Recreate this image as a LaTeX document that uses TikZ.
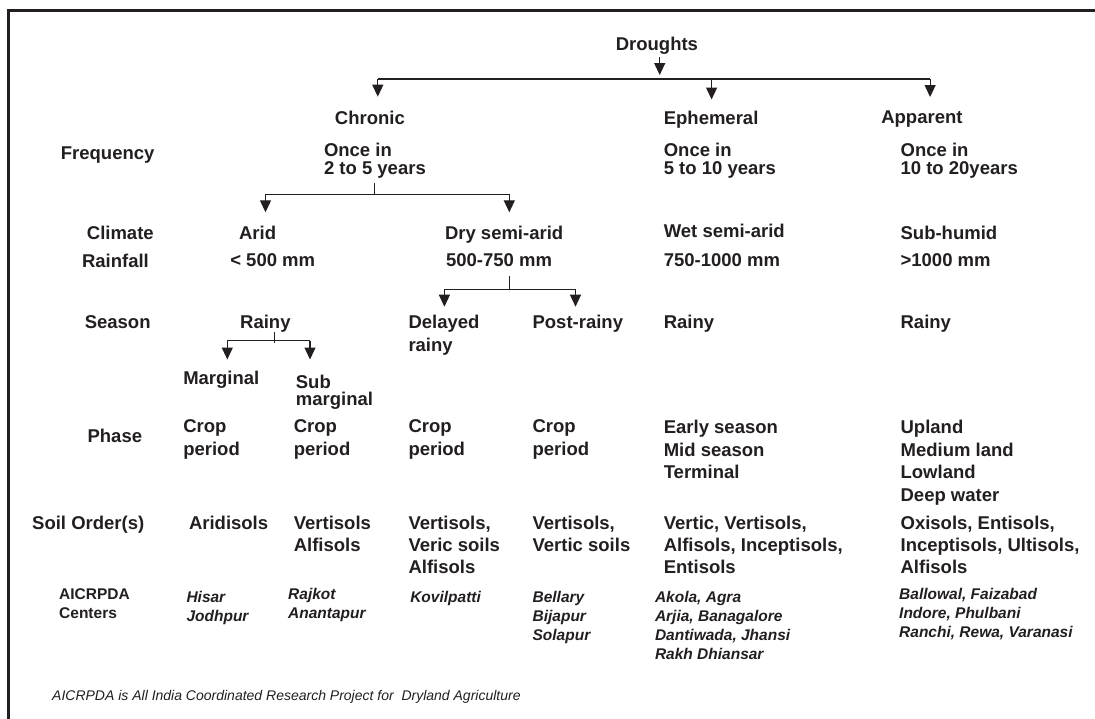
\documentclass[tikz,border=0pt]{standalone}
\usepackage{fontspec}
\setmainfont{Liberation Sans}
\usetikzlibrary{arrows.meta}
\definecolor{ink}{HTML}{231F20}

\tikzset{
  lbl/.style={anchor=north west, inner sep=0pt, align=left, font=\fontsize{18.5}{22.5}\selectfont\bfseries},
  tight/.style={lbl, font=\fontsize{18.5}{18}\selectfont\bfseries},
  ctrlbl/.style={anchor=north west, inner sep=0pt, align=left, font=\fontsize{15.5}{19}\selectfont\bfseries},
  ctr/.style={ctrlbl, font=\fontsize{15.5}{19}\selectfont\bfseries\itshape},
  arr/.style={-{Triangle[width=11pt,length=12pt]}},
}

\begin{document}
\begin{tikzpicture}[x=1pt,y=-1pt,line width=1.2pt,color=ink,text=ink]
        \fill[white] (0,0) rectangle (1095,718);
        \clip (0,0) rectangle (1095,718);
        \draw[line width=2.2pt] (8.5,730)--(8.5,10.5)--(1110,10.5);
        % tree heads
        \node[lbl] (drought) at (615.2,36.5) {Droughts};
        \node[lbl] (chronic) at (334.3,110.5) {Chronic};
        \node[lbl] (ephem) at (663.2,110.5) {Ephemeral};
        \node[lbl] (appar) at (880.7,110.5) {Apparent};
        % frequency
        \node[lbl] (freq) at (60.3,146.5) {Frequency};
        \node[tight] (freqC) at (323.4,142.5) {Once in\\2 to 5 years};
        \node[tight] (freqE) at (663.2,142.5) {Once in\\5 to 10 years};
        \node[tight] (freqA) at (900,142.5) {Once in\\10 to 20years};
        % climate and rainfall
        \node[lbl] (climate) at (86.3,225) {Climate};
        \node[lbl] (arid) at (238.5,225) {Arid};
        \node[lbl] (drysa) at (444.4,225) {Dry semi-arid};
        \node[lbl] (wetsa) at (663.2,223.5) {Wet semi-arid};
        \node[lbl] (subhum) at (900,225.5) {Sub-humid};
        \node[lbl] (rainfall) at (81.4,253.2) {Rainfall};
        \node[lbl] (rainA) at (229.7,253.2) {< 500 mm};
        \node[lbl] (rainD) at (445.5,253.2) {500-750 mm};
        \node[lbl] (rainW) at (663.2,253.2) {750-1000 mm};
        \node[lbl] (rainS) at (900,253.2) {>1000 mm};
        % season
        \node[lbl] (season) at (84.2,314.5) {Season};
        \node[lbl] (rainyA) at (239.6,314.5) {Rainy};
        \node[lbl, font=\fontsize{18.5}{23}\selectfont\bfseries] (delayed) at (407.9,314.5) {Delayed\\rainy};
        \node[lbl] (postr) at (532,314.5) {Post-rainy};
        \node[lbl] (rainyW) at (663.2,314.5) {Rainy};
        \node[lbl] (rainyS) at (900,314.5) {Rainy};
        \node[lbl] (marg) at (182.7,370.5) {Marginal};
        \node[tight, font=\fontsize{18.5}{17.3}\selectfont\bfseries] (submarg) at (295.3,374.2) {Sub\\marginal};
        % phase
        \node[lbl] (phase) at (87,428.8) {Phase};
        \node[lbl] (cropA) at (182.7,419.2) {Crop\\period};
        \node[lbl] (cropB) at (293.2,419.2) {Crop\\period};
        \node[lbl] (cropC) at (407.9,419.2) {Crop\\period};
        \node[lbl] (cropD) at (532,419.2) {Crop\\period};
        \node[lbl] (phaseW) at (663.2,419.8) {Early season\\Mid season\\Terminal};
        \node[lbl] (phaseS) at (900,419.8) {Upland\\Medium land\\Lowland\\Deep water};
        % soils
        \node[lbl] (soil) at (31.6,515.8) {Soil Order(s)};
        \node[lbl, font=\fontsize{18.5}{22}\selectfont\bfseries] (soilA) at (188.4,515.8) {Aridisols};
        \node[lbl, font=\fontsize{18.5}{22}\selectfont\bfseries] (soilB) at (293.2,515.8) {Vertisols\\Alfisols};
        \node[lbl, font=\fontsize{18.5}{22}\selectfont\bfseries] (soilC) at (407.9,515.8) {Vertisols,\\Veric soils\\Alfisols};
        \node[lbl, font=\fontsize{18.5}{22}\selectfont\bfseries] (soilD) at (532,515.8) {Vertisols,\\Vertic soils};
        \node[lbl, font=\fontsize{18.5}{22}\selectfont\bfseries] (soilW) at (663.2,515.8) {Vertic, Vertisols,\\Alfisols, Inceptisols,\\Entisols};
        \node[lbl, font=\fontsize{18.5}{22}\selectfont\bfseries] (soilS) at (900,515.8) {Oxisols, Entisols,\\Inceptisols, Ultisols,\\Alfisols};
        % centers
        \node[ctrlbl] (centers) at (58.6,588) {AICRPDA\\Centers};
        \node[ctr] (ctrA) at (185.9,591) {Hisar\\Jodhpur};
        \node[ctr] (ctrB) at (287.6,587.7) {Rajkot\\Anantapur};
        \node[ctr] (ctrC) at (409.7,590.7) {Kovilpatti};
        \node[ctr] (ctrD) at (532,591) {Bellary\\Bijapur\\Solapur};
        \node[ctr] (ctrW) at (654.4,591) {Akola, Agra\\Arjia, Banagalore\\Dantiwada, Jhansi\\Rakh Dhiansar};
        \node[ctr] (ctrS) at (898.6,587.7) {Ballowal, Faizabad\\Indore, Phulbani\\Ranchi, Rewa, Varanasi};
        \node[anchor=base west, inner sep=0pt, font=\fontsize{14}{16}\selectfont\itshape] (note) at (51.6,700)
            {AICRPDA is All India Coordinated Research Project for~ Dryland Agriculture};
        % connectors
        \coordinate (bD) at (659.7,79);
        \coordinate (bC) at (377.8,79);
        \coordinate (bE) at (711.6,79);
        \coordinate (bA) at (930.1,79);
        \draw[arr, shorten <=2pt] (drought.south -| bD)--([yshift=4pt]bD);
        \draw (bC)--(bA);
        \draw[arr] (bC)--++(0,17.7);
        \draw[arr] (bE)--++(0,20.5);
        \draw[arr] (bA)--++(0,18);
        \coordinate (jC) at (374.3,194.3);
        \coordinate (jCl) at (265.5,194.3);
        \coordinate (jCr) at (509.3,194.3);
        \draw ([yshift=-4pt]freqC.south -| jC)--(jC);
        \draw (jCl)--(jCr);
        \draw[arr] (jCl)--++(0,18);
        \draw[arr] (jCr)--++(0,18);
        \coordinate (jD) at (509.3,289.3);
        \coordinate (jDl) at (444.4,289.3);
        \coordinate (jDr) at (575.5,289.3);
        \draw (jD)--++(0,-13.3);
        \draw (jDl)--(jDr);
        \draw[arr] (jDl)--++(0,17.4);
        \draw[arr] (jDr)--++(0,17.4);
        \coordinate (jR) at (274.3,340.7);
        \coordinate (jRl) at (227.3,340.7);
        \coordinate (jRr) at (310,340.7);
        \draw (jR)++(0,2)--++(0,-11);
        \draw (jRl)--(jRr);
        \draw[arr] (jRl)--++(0,18.8);
        \draw[arr] (jRr)--++(0,18.8);
\end{tikzpicture}
\end{document}
